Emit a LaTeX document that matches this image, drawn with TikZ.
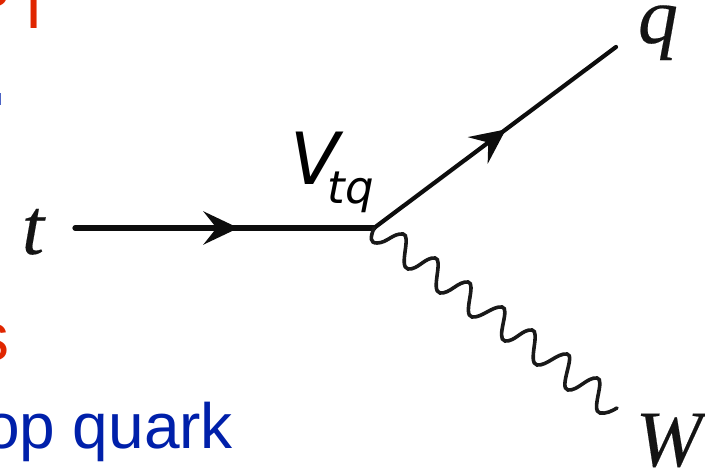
\documentclass[tikz,border=0pt]{standalone}
\usepackage{fontspec}
\setmainfont{Liberation Serif}
\setsansfont{Liberation Sans}
\newfontfamily\symfont{DejaVu Sans Oblique}
\newfontfamily\labfont[FakeBold=0.2]{Liberation Serif Italic}
\usetikzlibrary{arrows.meta,decorations.markings}
\definecolor{slidered}{RGB}{224,38,0}
\definecolor{slideblue}{RGB}{0,32,170}
\tikzset{
  every node/.style={inner sep=0pt,outer sep=0pt,anchor=base},
  lab/.style={font=\fontsize{80}{80}\selectfont\labfont,text=black!92},
  symb/.style={font=\fontsize{#1}{#1}\selectfont\symfont,text=black},
  sfred/.style={font=\fontsize{68}{68}\selectfont\sffamily,text=slidered},
  sfblue/.style={font=\fontsize{64}{64}\selectfont\sffamily,text=slideblue},
  fermion/.style 2 args={line width=#2,black!95,line cap=round,postaction={decorate},decoration={markings,mark=at position #1 with {\arrow{Stealth[length=35pt,width=33pt,inset=13pt]}}}},
  boson/.style={line width=3.6pt,black!90,line cap=round},
}
\begin{document}
\begin{tikzpicture}[x=1pt,y=-1pt]
\useasboundingbox (0,0) rectangle (705,470);
\clip (0,0) rectangle (705,470);
\fill[white] (0,0) rectangle (705,470);
% clipped slide text behind the diagram
\node[sfred] (r1) at (34.5,29) {l};
\node[sfred] (r2) at (-7.5,361) {s};
\node[sfblue] (b1) at (-16,449) {\rlap{op quark}};
\node[sfred] (r3) at (-7.5,6.5) {s};
\fill[slideblue!70] (0,93) rectangle (1.2,105);
% labels
\node[lab] (t) at (33,254) {t};
\node[lab] (q) at (658,43) {q};
\node[lab] (W) at (669,466) {W};
\node[symb=72] (V) at (315,185) {V};
\node[symb=45] (tq) at (351,204) {tq};
% vertices
\coordinate (in) at (75,228);
\coordinate (v) at (374,228);
\coordinate (out) at (616,47);
\coordinate (wend) at (617,408);
\draw[fermion={0.547}{5.2pt}] (in) -- (v);
\draw[fermion={0.545}{4.2pt}] (v) -- (out);
\draw[boson] (v) .. controls (370,238) and (370,243) .. (377,243)
 .. controls (387,243) and (393,233) .. (403,234)
 .. controls (412,235) and (398,267) .. (408,269)
 .. controls (418,270) and (425,257) .. (435,258)
 .. controls (444,259) and (430,291) .. (440,293)
 .. controls (450,294) and (458,281) .. (468,282)
 .. controls (477,283) and (462,315) .. (472,317)
 .. controls (482,318) and (492,306) .. (502,307)
 .. controls (511,308) and (495,339) .. (505,341)
 .. controls (515,342) and (522,329) .. (532,330)
 .. controls (541,331) and (527,363) .. (537,365)
 .. controls (547,366) and (557,353) .. (567,354)
 .. controls (576,355) and (558,388) .. (568,390)
 .. controls (578,391) and (587,377) .. (597,378)
 .. controls (606,379) and (590,411) .. (600,413)
 .. controls (606,414) and (612,411) .. (wend);
\end{tikzpicture}
\end{document}
